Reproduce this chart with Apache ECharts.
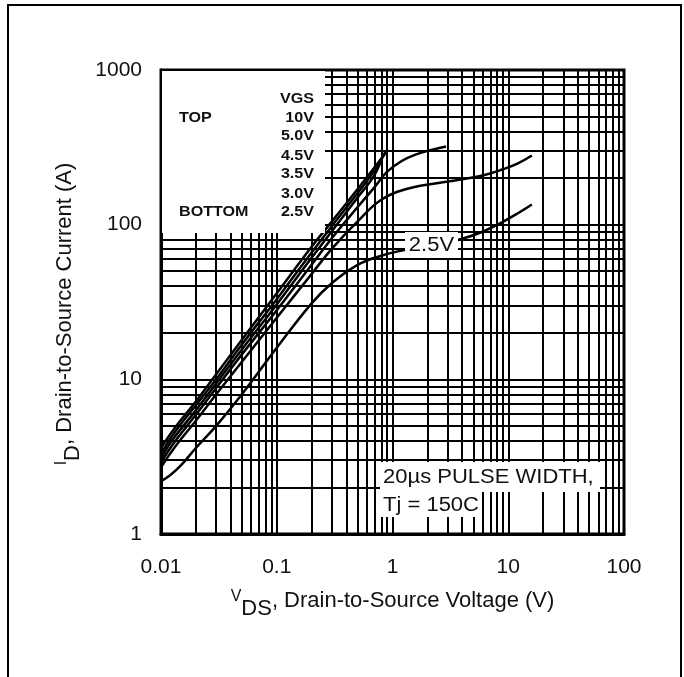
<!DOCTYPE html>
<html><head><meta charset="utf-8">
<script src="https://cdn.jsdelivr.net/npm/echarts@6/dist/echarts.min.js"></script>
<style>html,body{margin:0;padding:0;background:#fff}#c{width:684px;height:677px}</style>
</head><body><div id="c"></div>
<script>
// ---- data (VDS in V, ID in A) ----
const xTickLabels = ['0.01', '0.1', '1', '10', '100'];
const yTickLabels = ['1', '10', '100', '1000'];
const seriesNames = ['10V', '5.0V', '4.5V', '3.5V', '3.0V', '2.5V'];

const vgs10V = [[0.01,3.6],[0.013,4.8],[0.02,7.2],[0.03,10.8],[0.05,18],[0.1,36],[0.2,72],[0.3,105],[0.5,170],[0.7,235],[0.92,305]];
const vgs5V = [[0.01,3.3],[0.013,4.5],[0.02,6.8],[0.03,10],[0.05,16.8],[0.1,33],[0.2,66],[0.3,98],[0.5,160],[0.7,225],[0.88,300]];
const vgs45V = [[0.01,3.1],[0.013,4.2],[0.02,6.3],[0.03,9.4],[0.05,15.6],[0.1,30.5],[0.2,61],[0.3,91],[0.5,150],[0.7,210],[0.84,290]];
const vgs35V = [[0.01,2.9],[0.013,3.9],[0.02,5.9],[0.03,8.8],[0.05,14.5],[0.1,28],[0.2,55],[0.3,82],[0.5,130],[0.7,175],[0.9,220],[1.2,258],[1.6,285],[2.2,305],[2.9,320]];
const vgs3V = [[0.01,2.7],[0.013,3.6],[0.02,5.4],[0.03,8],[0.05,13],[0.1,25],[0.2,48],[0.3,70],[0.5,105],[0.8,145],[1.4,172],[3,190],[6,208],[9,228],[12,248],[16,280]];
const vgs25V = [[0.01,2.2],[0.012,2.4],[0.015,2.8],[0.02,3.6],[0.03,5.0],[0.05,8],[0.1,16],[0.2,31],[0.3,42],[0.5,55],[0.8,63],[1.2,68],[2,73],[3,77],[4,81],[6,90],[8.5,102],[12,118],[16,135]];

const minorGridX = [0.02,0.03,0.04,0.05,0.06,0.07,0.08,0.09,0.2,0.3,0.4,0.5,0.6,0.7,0.8,0.9,2,3,4,5,6,7,8,9,20,30,40,50,60,70,80,90];
const minorGridY = [2,3,4,5,6,7,8,9,20,30,40,50,60,70,80,90,200,300,400,500,600,700,800,900];

const legendRows = [['VGS',''],['10V','TOP'],['5.0V',''],['4.5V',''],['3.5V',''],['3.0V',''],['2.5V','BOTTOM']];
const noteLines = ['20\u00b5s PULSE WIDTH,', 'Tj = 150C'];
const curveLabel = '2.5V';

// ---- chart ----
const chart = echarts.init(document.getElementById('c'), null, {renderer: 'canvas'});
const FONT = '"Liberation Sans", Arial, sans-serif';
const allData = [vgs10V, vgs5V, vgs45V, vgs35V, vgs3V, vgs25V];

const nameRich = {
  m: {fontSize: 22, fontFamily: FONT, color: '#111', lineHeight: 40, verticalAlign: 'middle'},
  p: {fontSize: 16, fontFamily: FONT, color: '#111', verticalAlign: 'middle', padding: [0, 0, 8, 0]},
  s: {fontSize: 22, fontFamily: FONT, color: '#111', verticalAlign: 'middle', padding: [16, 0, 0, 0]}
};

const series = allData.map((d, i) => ({
  name: seriesNames[i],
  type: 'line',
  data: d,
  smooth: 0.4,
  showSymbol: false,
  symbol: 'none',
  lineStyle: {color: '#000', width: 2.5},
  z: 3,
  silent: true
}));
series[0].markLine = {
  silent: true,
  symbol: ['none', 'none'],
  label: {show: false},
  lineStyle: {type: 'solid', color: '#000', width: 2},
  animation: false,
  data: minorGridX.map(v => ({xAxis: v})).concat(minorGridY.map(v => ({yAxis: v})))
};

const graphics = [];
// outer frame
graphics.push({type: 'rect', shape: {x: 8, y: 5, width: 673, height: 720}, style: {fill: 'none', stroke: '#000', lineWidth: 2}, z: 200, silent: true});
// legend box
graphics.push({type: 'rect', shape: {x: 162, y: 71, width: 163, height: 162}, style: {fill: '#fff'}, z: 100, silent: true});
const rowY = [99, 118, 136, 156.5, 174, 194, 212];
legendRows.forEach((r, i) => {
  graphics.push({type: 'text', x: 314, y: rowY[i], scaleX: 1.15, z: 101, silent: true,
    style: {text: r[0], x: 0, y: 0, fill: '#111', font: 'bold 14px ' + FONT, align: 'right', verticalAlign: 'middle'}});
  if (r[1]) graphics.push({type: 'text', x: 179, y: rowY[i], scaleX: 1.15, z: 101, silent: true,
    style: {text: r[1], x: 0, y: 0, fill: '#111', font: 'bold 14px ' + FONT, align: 'left', verticalAlign: 'middle'}});
});
// note boxes
graphics.push({type: 'rect', shape: {x: 380, y: 462, width: 220, height: 30}, style: {fill: '#fff'}, z: 100, silent: true});
graphics.push({type: 'rect', shape: {x: 380, y: 491, width: 102, height: 26}, style: {fill: '#fff'}, z: 100, silent: true});
graphics.push({type: 'text', x: 383, y: 477, scaleX: 1.1, z: 101, silent: true,
  style: {text: noteLines[0], x: 0, y: 0, fill: '#111', font: '20px ' + FONT, align: 'left', verticalAlign: 'middle'}});
graphics.push({type: 'text', x: 383, y: 505, scaleX: 1.1, z: 101, silent: true,
  style: {text: noteLines[1], x: 0, y: 0, fill: '#111', font: '20px ' + FONT, align: 'left', verticalAlign: 'middle'}});
// curve label
graphics.push({type: 'rect', shape: {x: 405, y: 232, width: 53, height: 26}, style: {fill: '#fff'}, z: 100, silent: true});
graphics.push({type: 'text', x: 431.5, y: 245, scaleX: 1.1, z: 101, silent: true,
  style: {text: curveLabel, x: 0, y: 0, fill: '#111', font: '20px ' + FONT, align: 'center', verticalAlign: 'middle'}});

chart.setOption({
  animation: false,
  backgroundColor: '#fff',
  grid: {left: 161, top: 70, width: 463, height: 464, show: true, borderColor: '#000', borderWidth: 3, backgroundColor: 'transparent'},
  xAxis: {
    type: 'log', logBase: 10, min: 0.01, max: 100, interval: 1,
    axisLine: {show: true, lineStyle: {color: '#000', width: 3}},
    axisTick: {show: false},
    splitLine: {show: true, lineStyle: {color: '#000', width: 2}},
    axisLabel: {fontSize: 21, fontFamily: FONT, color: '#111', margin: 23,
      formatter: v => { const i = Math.round(Math.log10(v)) + 2; return xTickLabels[i] ?? ''; }},
    name: '{p|V}{s|DS}{m|, Drain-to-Source Voltage (V)}',
    nameLocation: 'middle', nameGap: 47,
    nameTextStyle: {rich: nameRich}
  },
  yAxis: {
    type: 'log', logBase: 10, min: 1, max: 1000, interval: 1,
    axisLine: {show: true, lineStyle: {color: '#000', width: 3}},
    axisTick: {show: false},
    splitLine: {show: true, lineStyle: {color: '#000', width: 2}},
    axisLabel: {fontSize: 21, fontFamily: FONT, color: '#111', margin: 19,
      formatter: v => { const i = Math.round(Math.log10(v)); return yTickLabels[i] ?? ''; }},
    name: '{p|I}{s|D}{m|, Drain-to-Source Current (A)}',
    nameLocation: 'middle', nameGap: 66, nameRotate: 90,
    nameTextStyle: {rich: nameRich, padding: [0, 24, 0, 0]}
  },
  series: series,
  graphic: {elements: graphics}
});
</script></body></html>
